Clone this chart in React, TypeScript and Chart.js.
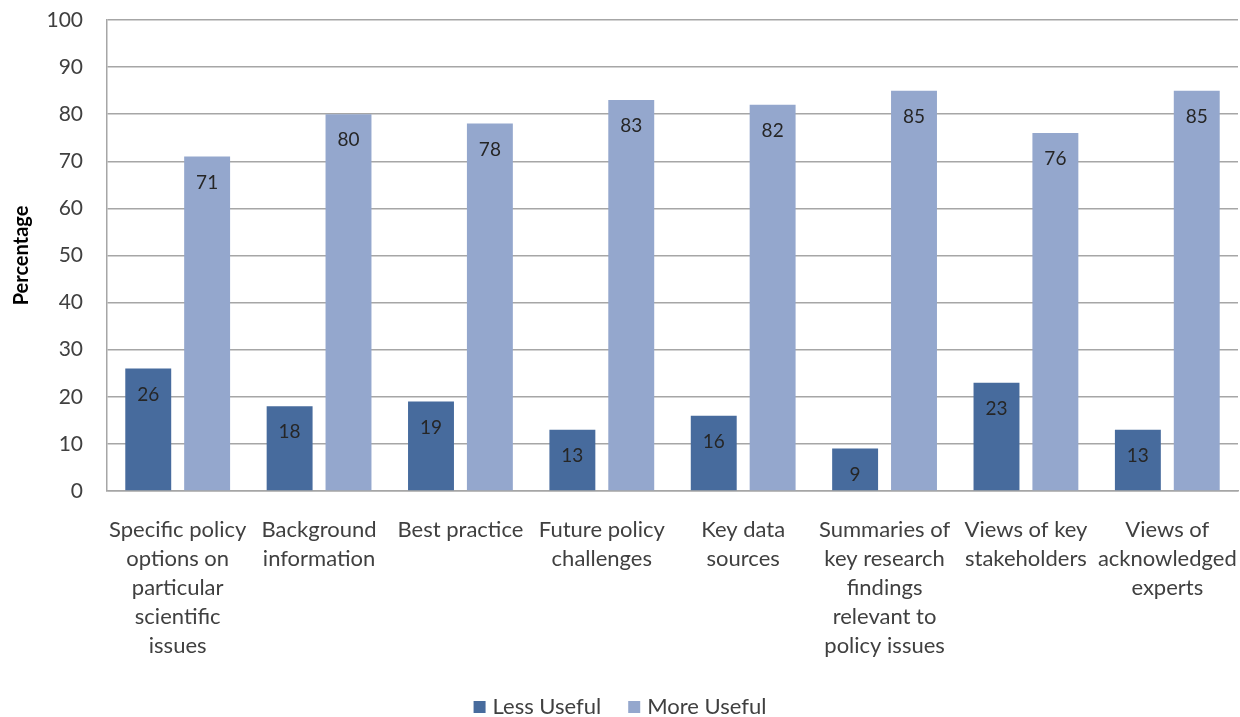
import { useEffect, useRef } from 'react';
import { Chart, registerables } from 'chart.js';

Chart.register(...registerables);

const categories = [
  ['Specific policy', 'options on', 'particular', 'scientific', 'issues'],
  ['Background', 'information'],
  ['Best practice'],
  ['Future policy', 'challenges'],
  ['Key data', 'sources'],
  ['Summaries of', 'key research', 'findings', 'relevant to', 'policy issues'],
  ['Views of key', 'stakeholders'],
  ['Views of', 'acknowledged', 'experts'],
];
const lessUseful = [26, 18, 19, 13, 16, 9, 23, 13];
const moreUseful = [71, 80, 78, 83, 82, 85, 76, 85];

const DARK = '#476b9d';
const LIGHT = '#94a7cd';
const FONT = "Lato, 'Open Sans', sans-serif";

// value printed inside each bar, just below its top
const barValues = {
  id: 'barValues',
  afterDatasetsDraw(chart: Chart) {
    const ctx = chart.ctx;
    ctx.save();
    ctx.font = `19px ${FONT}`;
    ctx.fillStyle = '#262626';
    ctx.textAlign = 'center';
    ctx.textBaseline = 'middle';
    chart.data.datasets.forEach((ds, i) => {
      chart.getDatasetMeta(i).data.forEach((bar: any, j) => {
        ctx.fillText(String(ds.data[j]), bar.x, bar.y + 26);
      });
    });
    ctx.restore();
  },
};

// small square legend centred under the axis
const bottomLegend = {
  id: 'bottomLegend',
  afterDraw(chart: Chart) {
    const ctx = chart.ctx;
    ctx.save();
    ctx.font = `22px ${FONT}`;
    ctx.textBaseline = 'middle';
    const box = 12;
    const gap = 7;
    const spacing = 27;
    const items = chart.data.datasets.map((ds) => ({
      text: ds.label as string,
      color: ds.backgroundColor as string,
      w: ctx.measureText(ds.label as string).width,
    }));
    const total = items.reduce((s, it) => s + box + gap + it.w, 0) + spacing * (items.length - 1);
    let x = chart.width / 2 - total / 2;
    const y = 707;
    items.forEach((it) => {
      ctx.fillStyle = it.color;
      ctx.fillRect(x, y - box / 2, box, box);
      ctx.fillStyle = '#404040';
      ctx.fillText(it.text, x + box + gap, y);
      x += box + gap + it.w + spacing;
    });
    ctx.restore();
  },
};

export default function App() {
  const canvasRef = useRef<HTMLCanvasElement | null>(null);
  const chartRef = useRef<Chart | null>(null);

  useEffect(() => {
    document.body.style.margin = '0';
    if (!canvasRef.current) return;
    if (chartRef.current) chartRef.current.destroy();

    chartRef.current = new Chart(canvasRef.current, {
      type: 'bar',
      data: {
        labels: categories,
        datasets: [
          { label: 'Less Useful', data: lessUseful, backgroundColor: DARK },
          { label: 'More Useful', data: moreUseful, backgroundColor: LIGHT },
        ],
      },
      options: {
        animation: false,
        responsive: true,
        maintainAspectRatio: false,
        layout: { padding: { top: 20, right: 2, bottom: 20, left: 0 } },
        datasets: { bar: { categoryPercentage: 0.833, barPercentage: 0.78 } },
        plugins: {
          legend: { display: false },
          tooltip: { enabled: false },
        },
        scales: {
          x: {
            grid: { display: false, drawTicks: false },
            border: { color: '#a6a6a6', width: 1.5 },
            ticks: {
              color: '#404040',
              font: { family: FONT, size: 22, lineHeight: 1.32 },
              padding: 24,
              maxRotation: 0,
              autoSkip: false,
            },
            afterFit(scale: any) {
              scale.height = 206;
              scale.paddingLeft = 0;
              scale.paddingRight = 0;
            },
          },
          y: {
            min: 0,
            max: 100,
            ticks: {
              stepSize: 10,
              color: '#404040',
              font: { family: FONT, size: 21 },
              padding: 24,
            },
            grid: { color: '#a6a6a6', lineWidth: 1.5, drawTicks: false },
            border: { color: '#a6a6a6', width: 1.5 },
            title: {
              display: true,
              text: 'Percentage',
              color: '#000',
              font: { family: FONT, size: 20, weight: 'bold' },
              padding: { top: 10, bottom: 0 },
            },
            afterFit(scale: any) {
              scale.width = 107;
              scale.paddingTop = 0;
              scale.paddingBottom = 0;
            },
          },
        },
      },
      plugins: [barValues, bottomLegend],
    });

    return () => {
      if (chartRef.current) {
        chartRef.current.destroy();
        chartRef.current = null;
      }
    };
  }, []);

  return (
    <div style={{ width: 1240, height: 717, position: 'relative', background: '#fff' }}>
      <canvas ref={canvasRef} />
    </div>
  );
}
